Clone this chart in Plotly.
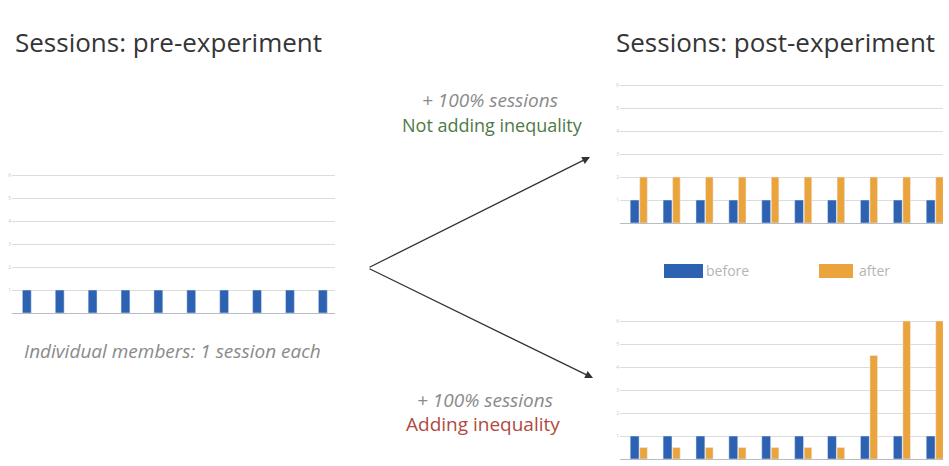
import plotly.graph_objects as go

members = list(range(1, 11))
pre_sessions = [1, 1, 1, 1, 1, 1, 1, 1, 1, 1]
post_equal_before = [1, 1, 1, 1, 1, 1, 1, 1, 1, 1]
post_equal_after = [2, 2, 2, 2, 2, 2, 2, 2, 2, 2]
post_unequal_before = [1, 1, 1, 1, 1, 1, 1, 1, 1, 1]
post_unequal_after = [0.5, 0.5, 0.5, 0.5, 0.5, 0.5, 0.5, 4.5, 6, 6]
y_ticks = [1, 2, 3, 4, 5, 6]

BLUE = "#2D62B2"
ORANGE = "#EBA43C"
GRID = "#DCDCDC"
FONT = "Open Sans"

W, H = 949, 466


def px_x(p):
    return p / W


def px_y(p):
    return (H - p) / H


fig = go.Figure()

# Left chart
fig.add_trace(go.Bar(x=members, y=pre_sessions, marker_color=BLUE, width=0.27,
                     xaxis="x", yaxis="y", showlegend=False, hoverinfo="y"))
# Top right chart
fig.add_trace(go.Bar(x=members, y=post_equal_before, marker_color=BLUE, width=0.27, offset=-0.27,
                     xaxis="x2", yaxis="y2", showlegend=False))
fig.add_trace(go.Bar(x=members, y=post_equal_after, marker_color=ORANGE, width=0.23, offset=0.02,
                     xaxis="x2", yaxis="y2", showlegend=False))
# Bottom right chart
fig.add_trace(go.Bar(x=members, y=post_unequal_before, marker_color=BLUE, width=0.27, offset=-0.27,
                     xaxis="x3", yaxis="y3", showlegend=False))
fig.add_trace(go.Bar(x=members, y=post_unequal_after, marker_color=ORANGE, width=0.23, offset=0.02,
                     xaxis="x3", yaxis="y3", showlegend=False))

xcommon = dict(showgrid=False, showticklabels=False, ticks="", zeroline=False,
               showline=True, linecolor="#B8BCC4", linewidth=1.2, fixedrange=True)
ycommon = dict(range=[0, 6.1], tickvals=y_ticks, showgrid=True, gridcolor=GRID, gridwidth=1.2,
               zeroline=False, showline=False, ticks="",
               tickfont=dict(size=5, color="#C8C8C8", family=FONT), fixedrange=True)

U = 23  # px per unit


def ydom(zero_px):
    return [px_y(zero_px), px_y(zero_px - 6.1 * U)]


fig.update_layout(
    width=W, height=H,
    xaxis=dict(domain=[px_x(12), px_x(335)], range=[0.55, 10.37], anchor="y", **xcommon),
    yaxis=dict(domain=ydom(313), anchor="x", **ycommon),
    xaxis2=dict(domain=[px_x(620), px_x(943)], range=[0.42, 10.24], anchor="y2", **xcommon),
    yaxis2=dict(domain=ydom(223), anchor="x2", **ycommon),
    xaxis3=dict(domain=[px_x(620), px_x(943)], range=[0.42, 10.24], anchor="y3", **xcommon),
    yaxis3=dict(domain=ydom(459), anchor="x3", **ycommon),
    margin=dict(l=0, r=0, t=0, b=0),
    paper_bgcolor="white",
    plot_bgcolor="white",
    barmode="overlay",
    font=dict(family=FONT),
)

anns = [
    dict(x=px_x(13), y=px_y(42), text="Sessions: pre-experiment", xanchor="left",
         font=dict(size=26, color="#353535")),
    dict(x=px_x(614), y=px_y(42), text="Sessions: post-experiment", xanchor="left",
         font=dict(size=26, color="#353535")),
    dict(x=px_x(490), y=px_y(100), text="<i>+ 100% sessions</i>", xanchor="center",
         font=dict(size=19, color="#8A8A8A")),
    dict(x=px_x(492), y=px_y(125), text="Not adding inequality", xanchor="center",
         font=dict(size=18, color="#4E7A45")),
    dict(x=px_x(485), y=px_y(400), text="<i>+ 100% sessions</i>", xanchor="center",
         font=dict(size=19, color="#8A8A8A")),
    dict(x=px_x(483), y=px_y(424), text="Adding inequality", xanchor="center",
         font=dict(size=19, color="#B04A3E")),
    dict(x=px_x(172), y=px_y(351), text="<i>Individual members: 1 session each</i>", xanchor="center",
         font=dict(size=19, color="#8A8A8A")),
    dict(x=px_x(704), y=px_y(270), text="before", xanchor="left",
         font=dict(size=14, color="#B5B5B5")),
    dict(x=px_x(857), y=px_y(270), text="after", xanchor="left",
         font=dict(size=14, color="#B5B5B5")),
]
for a in anns:
    fig.add_annotation(xref="paper", yref="paper", showarrow=False, yanchor="middle", **a)

# Arrows
fig.add_annotation(xref="paper", yref="paper", x=px_x(590), y=px_y(157), ax=368 - 590, ay=268 - 157,
                   showarrow=True, arrowhead=2, arrowsize=1.2, arrowwidth=1.3, arrowcolor="#333333", text="")
fig.add_annotation(xref="paper", yref="paper", x=px_x(593), y=px_y(378), ax=368 - 593, ay=268 - 378,
                   showarrow=True, arrowhead=2, arrowsize=1.2, arrowwidth=1.3, arrowcolor="#333333", text="")

# Legend swatches
fig.add_shape(type="rect", xref="paper", yref="paper", x0=px_x(664), x1=px_x(703), y0=px_y(278), y1=px_y(264),
              fillcolor=BLUE, line_width=0)
fig.add_shape(type="rect", xref="paper", yref="paper", x0=px_x(819), x1=px_x(853), y0=px_y(278), y1=px_y(264),
              fillcolor=ORANGE, line_width=0)

fig.write_html("out.html", config={"displayModeBar": False},
               post_script="document.body.style.margin='0px';")
